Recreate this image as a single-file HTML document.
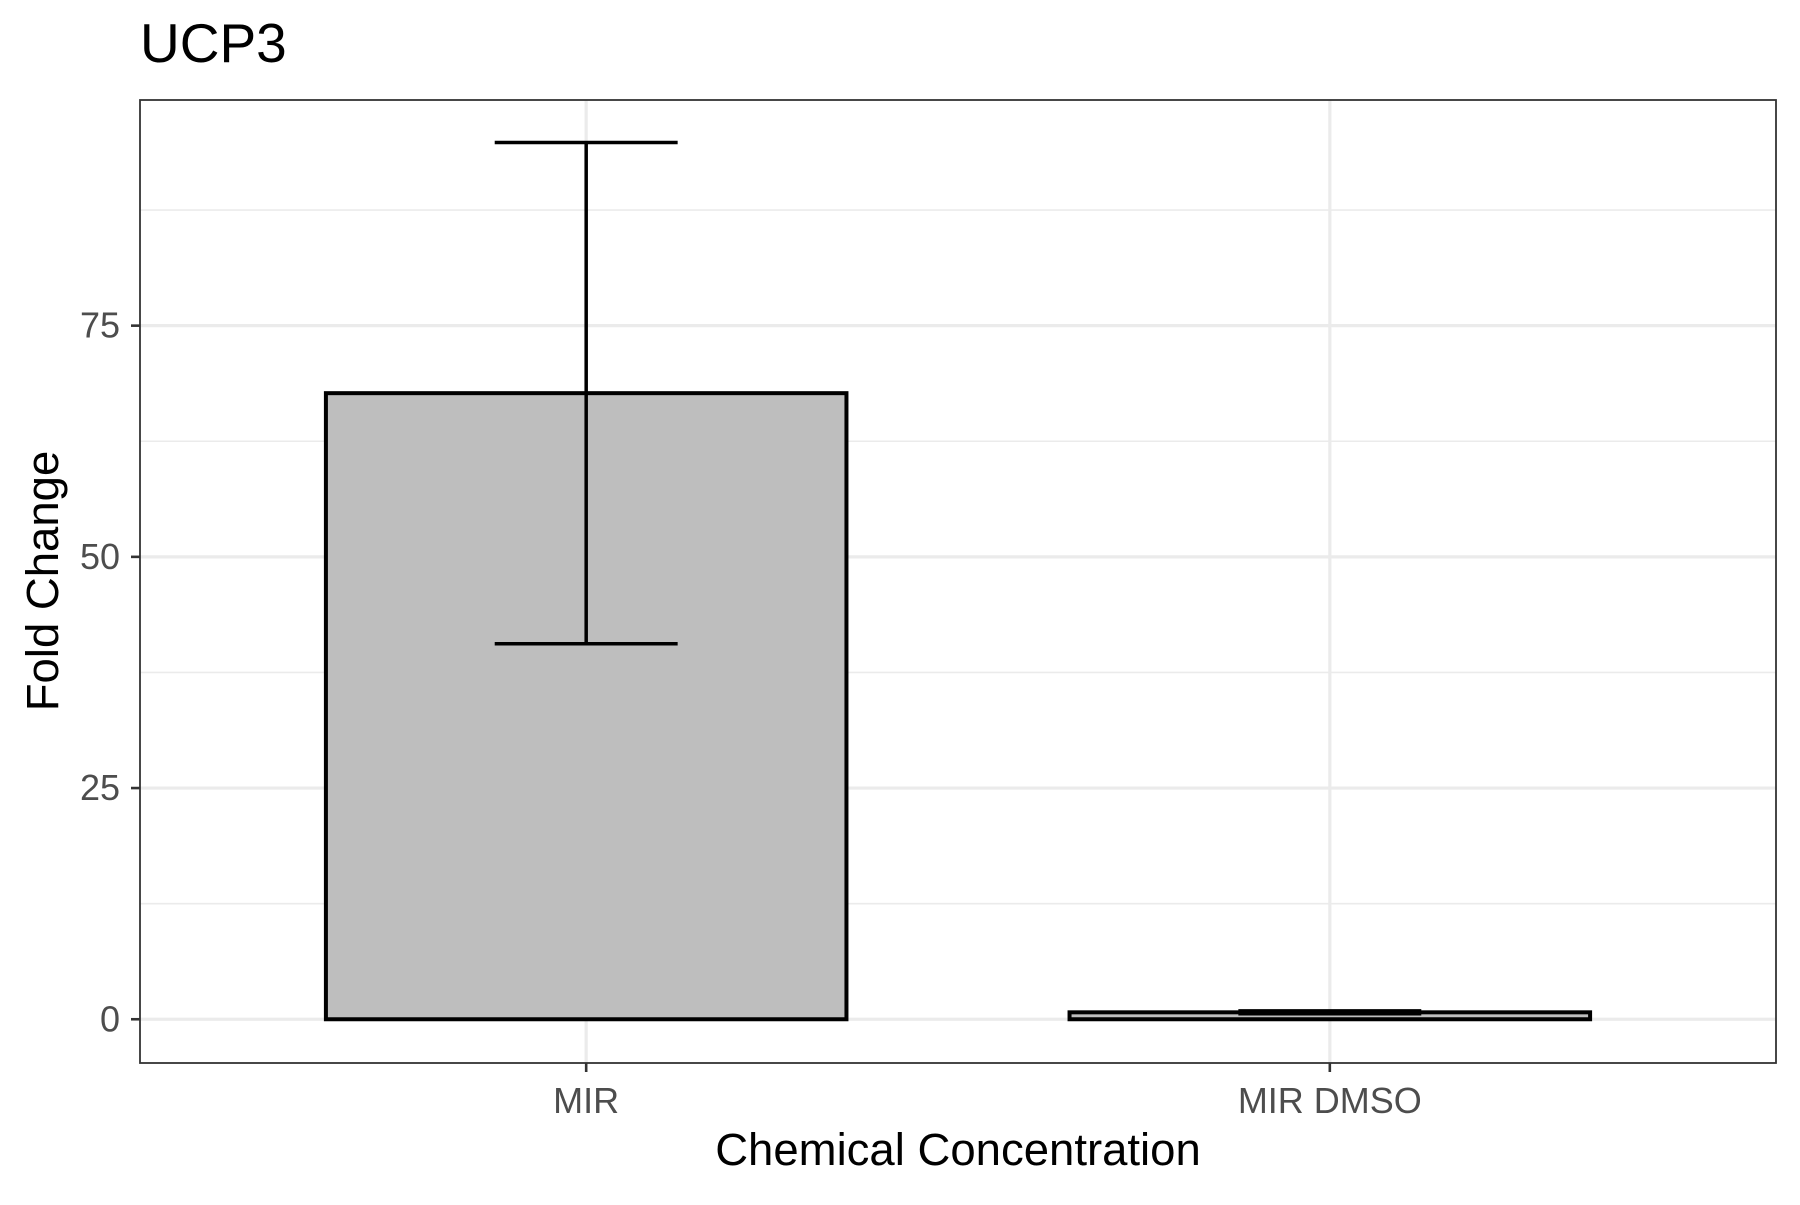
<!DOCTYPE html>
<html><head><meta charset="utf-8"><style>
html,body{margin:0;padding:0;background:#fff;}
svg text{font-family:"Liberation Sans",Arial,sans-serif;}
</style></head><body>
<svg id="chart" width="1800" height="1200" xmlns="http://www.w3.org/2000/svg">
<rect width="1800" height="1200" fill="#fff"/>
<g id="grid"></g>
<g id="bars"></g>
<g id="axes"></g>
<text x="140" y="62" font-size="55" fill="#000">UCP3</text>
<text x="958" y="1165" font-size="45.5" text-anchor="middle" fill="#000">Chemical Concentration</text>
<text transform="translate(58,581) rotate(-90)" font-size="45.5" text-anchor="middle" fill="#000">Fold Change</text>
</svg>
<script>
const categories = ["MIR", "MIR DMSO"];
const values = [67.7, 0.75];
const errLow = [40.6, 0.6];
const errHigh = [94.8, 0.9];
const yTicks = [0, 25, 50, 75];
const yMinor = [12.5, 37.5, 62.5, 87.5];

const NS = "http://www.w3.org/2000/svg";
const P = {l:140, r:1776, t:100, b:1063};
const yMin = -4.73, yMax = 99.4;
const y = v => P.b - (v - yMin) / (yMax - yMin) * (P.b - P.t);
const unit = (P.r - P.l) / (categories.length - 1 + 1.2);
const x = i => P.l + unit * (0.6 + i);
const barW = unit * 0.7, capW = unit * 0.123;

function mk(tag, attrs, parent){
  const e = document.createElementNS(NS, tag);
  for (const k in attrs) e.setAttribute(k, attrs[k]);
  parent.appendChild(e); return e;
}
const grid = document.getElementById('grid');
const bars = document.getElementById('bars');
const axes = document.getElementById('axes');

yMinor.forEach(v => {
  const l = mk('line', {x1:P.l, x2:P.r, y1:y(v), y2:y(v), stroke:'#ebebeb', 'stroke-width':1.6}, grid);
  
  
});
yTicks.forEach(v => {
  const l = mk('line', {x1:P.l, x2:P.r, y1:y(v), y2:y(v), stroke:'#ebebeb', 'stroke-width':3.2}, grid);
  
  
  const t = mk('line', {x1:P.l-9, x2:P.l, y1:y(v), y2:y(v), stroke:'#333', 'stroke-width':2.6}, axes);
  
  
  const tx = mk('text', {x:P.l-20, y:y(v)+12, 'font-size':36, 'text-anchor':'end', fill:'#4d4d4d'}, axes);
  tx.textContent = v;
  
  
});
categories.forEach((c, i) => {
  const l = mk('line', {x1:x(i), x2:x(i), y1:P.t, y2:P.b, stroke:'#ebebeb', 'stroke-width':3.2}, grid);
  
  
  const r = mk('rect', {x:x(i)-barW/2, y:y(values[i]), width:barW, height:y(0)-y(values[i]), fill:'#bebebe', stroke:'#000', 'stroke-width':4}, bars);
  
  
  const g = mk('g', {stroke:'#000', 'stroke-width':3.5, fill:'none'}, bars);
  
  
  mk('line', {x1:x(i), x2:x(i), y1:y(errHigh[i]), y2:y(errLow[i])}, g);
  mk('line', {x1:x(i)-capW, x2:x(i)+capW, y1:y(errHigh[i]), y2:y(errHigh[i])}, g);
  mk('line', {x1:x(i)-capW, x2:x(i)+capW, y1:y(errLow[i]), y2:y(errLow[i])}, g);
  const t = mk('line', {x1:x(i), x2:x(i), y1:P.b, y2:P.b+9, stroke:'#333', 'stroke-width':2.6}, axes);
  
  
  const tx = mk('text', {x:x(i), y:P.b+50, 'font-size':36, 'text-anchor':'middle', fill:'#4d4d4d'}, axes);
  tx.textContent = c;
  
  
});
const border = mk('rect', {x:P.l, y:P.t, width:P.r-P.l, height:P.b-P.t, fill:'none', stroke:'#333', 'stroke-width':1.8}, axes);


</script>
</body></html>
